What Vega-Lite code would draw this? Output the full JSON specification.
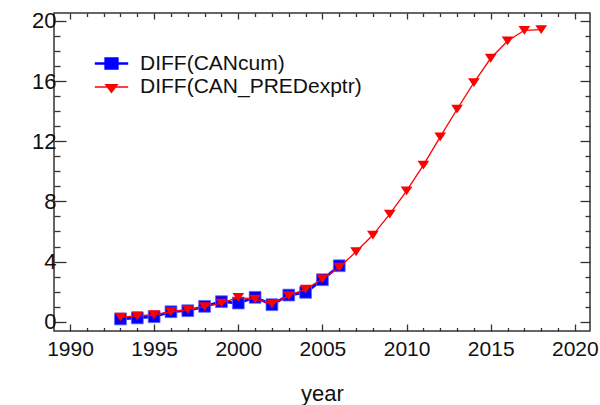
{
  "$schema": "https://vega.github.io/schema/vega-lite/v6.json",
  "width": 536,
  "height": 318,
  "autosize": {"type": "none"},
  "padding": {"left": 54, "top": 13, "right": 10, "bottom": 74},
  "background": "white",
  "config": {
    "font": "Liberation Sans",
    "view": {"stroke": "#333333", "strokeWidth": 1.5},
    "axis": {"domain": false, "grid": false, "tickColor": "#333333", "tickWidth": 1.3, "labelColor": "#111111", "labelFont": "Liberation Sans", "titleFont": "Liberation Sans"}
  },
  "datasets": {
    "cancum": [
      {"year": 1993, "value": 0.18, "series": "DIFF(CANcum)"},
      {"year": 1994, "value": 0.25, "series": "DIFF(CANcum)"},
      {"year": 1995, "value": 0.33, "series": "DIFF(CANcum)"},
      {"year": 1996, "value": 0.66, "series": "DIFF(CANcum)"},
      {"year": 1997, "value": 0.73, "series": "DIFF(CANcum)"},
      {"year": 1998, "value": 1.02, "series": "DIFF(CANcum)"},
      {"year": 1999, "value": 1.33, "series": "DIFF(CANcum)"},
      {"year": 2000, "value": 1.24, "series": "DIFF(CANcum)"},
      {"year": 2001, "value": 1.62, "series": "DIFF(CANcum)"},
      {"year": 2002, "value": 1.13, "series": "DIFF(CANcum)"},
      {"year": 2003, "value": 1.77, "series": "DIFF(CANcum)"},
      {"year": 2004, "value": 1.95, "series": "DIFF(CANcum)"},
      {"year": 2005, "value": 2.79, "series": "DIFF(CANcum)"},
      {"year": 2006, "value": 3.72, "series": "DIFF(CANcum)"}
    ],
    "pred": [
      {"year": 1993, "value": 0.3, "series": "DIFF(CAN_PREDexptr)"},
      {"year": 1994, "value": 0.38, "series": "DIFF(CAN_PREDexptr)"},
      {"year": 1995, "value": 0.46, "series": "DIFF(CAN_PREDexptr)"},
      {"year": 1996, "value": 0.66, "series": "DIFF(CAN_PREDexptr)"},
      {"year": 1997, "value": 0.8, "series": "DIFF(CAN_PREDexptr)"},
      {"year": 1998, "value": 1.0, "series": "DIFF(CAN_PREDexptr)"},
      {"year": 1999, "value": 1.24, "series": "DIFF(CAN_PREDexptr)"},
      {"year": 2000, "value": 1.62, "series": "DIFF(CAN_PREDexptr)"},
      {"year": 2001, "value": 1.5, "series": "DIFF(CAN_PREDexptr)"},
      {"year": 2002, "value": 1.18, "series": "DIFF(CAN_PREDexptr)"},
      {"year": 2003, "value": 1.73, "series": "DIFF(CAN_PREDexptr)"},
      {"year": 2004, "value": 2.17, "series": "DIFF(CAN_PREDexptr)"},
      {"year": 2005, "value": 2.84, "series": "DIFF(CAN_PREDexptr)"},
      {"year": 2006, "value": 3.62, "series": "DIFF(CAN_PREDexptr)"},
      {"year": 2007, "value": 4.65, "series": "DIFF(CAN_PREDexptr)"},
      {"year": 2008, "value": 5.76, "series": "DIFF(CAN_PREDexptr)"},
      {"year": 2009, "value": 7.15, "series": "DIFF(CAN_PREDexptr)"},
      {"year": 2010, "value": 8.7, "series": "DIFF(CAN_PREDexptr)"},
      {"year": 2011, "value": 10.41, "series": "DIFF(CAN_PREDexptr)"},
      {"year": 2012, "value": 12.29, "series": "DIFF(CAN_PREDexptr)"},
      {"year": 2013, "value": 14.13, "series": "DIFF(CAN_PREDexptr)"},
      {"year": 2014, "value": 15.9, "series": "DIFF(CAN_PREDexptr)"},
      {"year": 2015, "value": 17.52, "series": "DIFF(CAN_PREDexptr)"},
      {"year": 2016, "value": 18.67, "series": "DIFF(CAN_PREDexptr)"},
      {"year": 2017, "value": 19.38, "series": "DIFF(CAN_PREDexptr)"},
      {"year": 2018, "value": 19.42, "series": "DIFF(CAN_PREDexptr)"}
    ]
  },
  "layer": [
    {
      "data": {"name": "cancum"},
      "mark": {"type": "line", "color": "#0000ff", "strokeWidth": 2.7},
      "encoding": {
        "x": {"field": "year", "type": "quantitative", "scale": {"domain": [1989.05, 2020.9], "nice": false, "zero": false},
          "axis": {"orient": "bottom", "values": [1990,1991,1992,1993,1994,1995,1996,1997,1998,1999,2000,2001,2002,2003,2004,2005,2006,2007,2008,2009,2010,2011,2012,2013,2014,2015,2016,2017,2018,2019,2020],
            "labelExpr": "datum.value % 5 === 0 ? datum.label : ''", "format": "d", "labelOverlap": false, "labelFontSize": 21, "labelPadding": 14,
            "tickSize": {"condition": {"test": "datum.value % 5 === 0", "value": -7}, "value": -3.5},
            "title": "year", "titleFontSize": 22, "titleFontWeight": "normal", "titlePadding": 21, "titleColor": "#111111"}},
        "y": {"field": "value", "type": "quantitative", "scale": {"domain": [-0.62, 20.53], "nice": false, "zero": false},
          "axis": {"orient": "left", "values": [0,1,2,3,4,5,6,7,8,9,10,11,12,13,14,15,16,17,18,19,20],
            "labelExpr": "datum.value % 4 === 0 ? datum.label : ''", "labelOverlap": false, "labelFontSize": 22, "labelPadding": 10,
            "tickSize": {"condition": {"test": "datum.value % 4 === 0", "value": -12}, "value": -6},
            "title": null}}
      }
    },
    {
      "data": {"name": "cancum"},
      "mark": {"type": "point", "shape": "square", "filled": true, "size": 140, "opacity": 1, "color": "#0000ff", "stroke": "#6666ff", "strokeWidth": 0.8},
      "encoding": {
        "x": {"field": "year", "type": "quantitative", "axis": null},
        "y": {"field": "value", "type": "quantitative", "axis": null}
      }
    },
    {
      "data": {"name": "pred"},
      "mark": {"type": "line", "color": "#ff0000", "strokeWidth": 1.3},
      "encoding": {
        "x": {"field": "year", "type": "quantitative", "axis": null},
        "y": {"field": "value", "type": "quantitative", "axis": null}
      }
    },
    {
      "data": {"name": "pred"},
      "mark": {"type": "point", "shape": "M-1,-0.75L1,-0.75L0,0.75Z", "filled": true, "size": 137, "opacity": 1, "color": "#ff0000"},
      "encoding": {
        "x": {"field": "year", "type": "quantitative",
          "axis": {"orient": "top", "values": [1990,1991,1992,1993,1994,1995,1996,1997,1998,1999,2000,2001,2002,2003,2004,2005,2006,2007,2008,2009,2010,2011,2012,2013,2014,2015,2016,2017,2018,2019,2020],
            "labels": false, "title": null,
            "tickSize": {"condition": {"test": "datum.value % 5 === 0", "value": -6}, "value": -3.5}}},
        "y": {"field": "value", "type": "quantitative",
          "axis": {"orient": "right", "values": [0,1,2,3,4,5,6,7,8,9,10,11,12,13,14,15,16,17,18,19,20],
            "labels": false, "title": null,
            "tickSize": {"condition": {"test": "datum.value % 4 === 0", "value": -10}, "value": -5}}}
      }
    },
    {
      "data": {"values": []},
      "mark": {"type": "point", "filled": true, "opacity": 1},
      "encoding": {
        "color": {"field": "series", "type": "nominal",
          "scale": {"domain": ["DIFF(CANcum)", "DIFF(CAN_PREDexptr)"], "range": ["#0000ff", "#ff0000"]},
          "legend": {"title": null, "orient": "none", "legendX": 46, "legendY": 39, "padding": 0,
            "symbolSize": 400, "labelOffset": 17, "rowPadding": 2, "labelFontSize": 21, "labelColor": "#111111", "labelLimit": 400}},
        "stroke": {"field": "series", "type": "nominal",
          "scale": {"domain": ["DIFF(CANcum)", "DIFF(CAN_PREDexptr)"], "range": ["#0000ff", "#ff0000"]},
          "legend": {"title": null, "orient": "none", "legendX": 46, "legendY": 39, "padding": 0,
            "symbolSize": 400, "labelOffset": 17, "rowPadding": 2, "labelFontSize": 21, "labelColor": "#111111", "labelLimit": 400}},
        "shape": {"field": "series", "type": "nominal",
          "scale": {"domain": ["DIFF(CANcum)", "DIFF(CAN_PREDexptr)"], "range": ["M-1.67,0H1.67M-0.58,-0.5H0.58V0.5H-0.58Z", "M-1.67,0H1.67M-0.58,-0.24H0.58L0,0.53Z"]},
          "legend": {"title": null, "orient": "none", "legendX": 46, "legendY": 39, "padding": 0,
            "symbolSize": 400, "labelOffset": 17, "rowPadding": 2, "labelFontSize": 21, "labelColor": "#111111", "labelLimit": 400}},
        "strokeWidth": {"field": "series", "type": "nominal",
          "scale": {"type": "point", "padding": 0, "domain": ["DIFF(CANcum)", "DIFF(CAN_PREDexptr)"], "range": [2.7, 1.3]},
          "legend": {"title": null, "orient": "none", "legendX": 46, "legendY": 39, "padding": 0,
            "symbolSize": 400, "labelOffset": 17, "rowPadding": 2, "labelFontSize": 21, "labelColor": "#111111", "labelLimit": 400}}
      }
    }
  ],
  "resolve": {"axis": {"x": "independent", "y": "independent"}}
}
